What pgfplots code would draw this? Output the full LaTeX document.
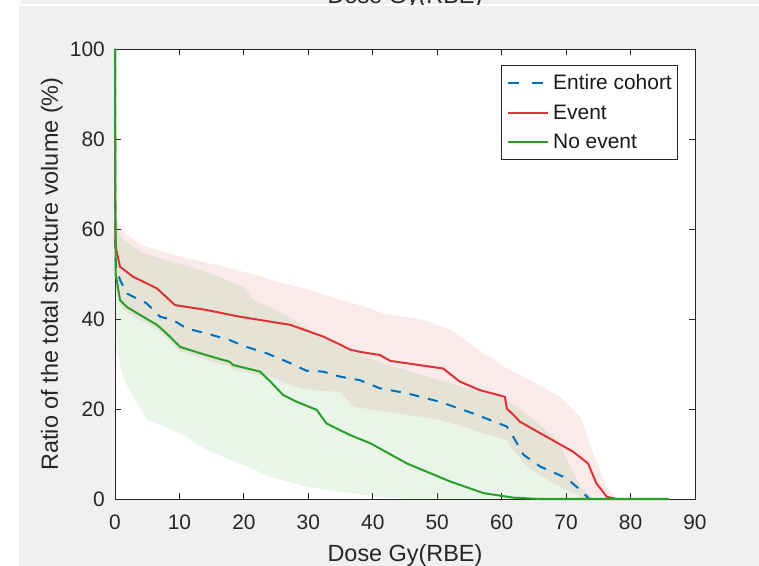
\documentclass[border=0pt]{standalone}
\usepackage{fontspec}
\setmainfont{Liberation Sans}
\usepackage{pgfplots}
\pgfplotsset{compat=1.18}
\definecolor{bgray}{RGB}{240,240,240}
\definecolor{axc}{RGB}{38,38,38}
\definecolor{cblue}{RGB}{0,114,189}
\definecolor{cred}{RGB}{222,50,55}
\definecolor{cgreen}{RGB}{40,160,40}
\begin{document}
\begin{tikzpicture}
\useasboundingbox (0,0) rectangle (759bp,566bp);
\fill[white] (0,0) rectangle (759bp,566bp);
\fill[bgray] (19bp,0) rectangle (759bp,560bp);
\begin{scope}
\clip (21bp,561.5bp) rectangle (759bp,566bp);
\fill[bgray] (21bp,561.5bp) rectangle (759bp,566bp);
\node[anchor=base, inner sep=0pt, text=axc, font=\fontsize{23.5}{28}\selectfont] at (405bp,562.7bp) {Dose Gy(RBE)};
\end{scope}
\begin{axis}[
  at={(115bp,67bp)}, anchor=south west,
  scale only axis, width=580bp, height=450bp,
  xmin=0, xmax=90, ymin=0, ymax=100,
  xtick={0,10,...,90}, ytick={0,20,...,100},
  tick align=inside, tick pos=both,
  major tick length=6bp,
  axis line style={axc, line width=0.8bp},
  every tick/.style={axc, line width=0.8bp},
  /pgf/number format/assume math mode=true,
  ticklabel style={font=\fontsize{21}{25}\selectfont, text=axc},
  xticklabel style={inner sep=0pt, yshift=-16bp},
  yticklabel style={inner sep=0pt, xshift=-10bp},
  xlabel={Dose Gy(RBE)},
  ylabel={Ratio of the total structure volume (\%)},
  label style={font=\fontsize{23.5}{28}\selectfont, text=axc},
  xlabel style={at={(axis description cs:0.5,0)}, anchor=base, yshift=-62.7bp, inner sep=0pt},
  ylabel style={at={(axis description cs:-0.0983,0.5)}, anchor=base, inner sep=0pt},
  axis background/.style={fill=white},
  clip=false,
  legend cell align=left,
  legend image code/.code={\draw[#1] (0bp,0bp) -- (40bp,0bp);},
  legend style={at={(0.971,0.964)}, anchor=north east, draw=axc, line width=0.7bp, fill=white,
    font=\fontsize{21}{25}\selectfont, inner xsep=6bp, inner ysep=9bp,
    row sep=13.6bp, column sep=4bp, nodes={inner sep=0pt, text=black!90}},
]
% Event band (pink)
\addplot[draw=none, fill=cred, fill opacity=0.1, forget plot] coordinates {
(0,64) (0.3,62) (1.3,59.5) (2.3,58.2) (4.4,56.3) (9.6,54) (17.3,51.5) (22.5,49.5)
(24.6,48.5) (30.3,46.5) (34.9,44.3) (39,42.6) (41.6,41.2) (47.8,39.8) (52,37.6) (57.2,32.4)
(60.8,29) (64.4,26.4) (69.1,22.7) (72.2,18.3) (74.2,10.1) (76.3,2.7) (77.8,0)
(73,0) (71.1,1.3) (68,3.5) (63.9,7.2) (61.8,10.9) (60.8,13.1) (50.4,17.6) (37,20.5)
(34.9,23.8) (30.3,24.2) (27.7,25) (24.1,27.2) (22.5,27.5) (18.3,28.8) (17.8,29.5)
(15.8,30.3) (13.2,31.4) (10.1,32.8) (8,35.8) (6.5,37.7) (3.9,39.8) (1.8,41.5)
(0.78,43) (0.26,46) (0,46)
} -- cycle;
% No event band (green)
\addplot[draw=none, fill=cgreen, fill opacity=0.1, forget plot] coordinates {
(0,64) (0.26,60) (1.3,57.6) (4.4,54.6) (9.6,52.4) (14.7,50.2) (19.9,47.2) (21.5,44.2)
(25.1,42) (27.7,39.8) (30.3,37.6) (34.9,33.8) (41.6,30.2) (50.4,26.4) (60.8,22)
(63.9,19) (68.6,13.1) (72.2,2.7) (74.2,0)
(46,0) (42,0.3) (36.5,1.3) (29.7,2.7) (24.1,5) (19.4,7.9) (14.2,10.9) (10.1,14.6)
(4.9,17.8) (4.4,19) (3.4,21.5) (2.3,24) (1.3,27) (0.3,33) (0,45)
} -- cycle;
% Entire cohort
\addplot[cblue, line width=2bp, dash pattern=on 10bp off 9bp,
  legend image post style={dash pattern=on 11bp off 13bp}] coordinates {
(0,100) (0.05,55) (0.15,51.5) (0.78,48.7) (1.8,45.7) (4.9,43.5) (7,40.5) (9,39.8)
(11.1,37.9) (14.2,36.8) (17.8,35.3) (20.4,33.8) (23.5,32.4) (27.2,30.2) (29.7,28.5)
(32.3,28.3) (34.9,27.2) (36.5,26.8) (38,26.4) (41.1,24.6) (45.3,23.5) (50.4,21.6)
(55.6,19) (60.8,16.1) (61.8,13.8) (63.4,9.8) (66,7.2) (70.1,4.6) (72.2,2) (73.4,0.3) (73.6,0)
};
\addlegendentry{Entire cohort}
% Event
\addplot[cred, line width=2bp] coordinates {
(0,100) (0.05,57) (0.26,55) (0.78,51.6) (2.8,49.4) (6.5,46.8) (9.3,43.1) (14.2,42)
(19.4,40.5) (27.2,38.7) (32.3,36.1) (34.5,34.6) (36.5,33.2) (38,32.7) (41.1,32)
(42.7,30.7) (50.9,29) (53.5,26.1) (56.6,24.2) (60.5,22.7) (60.8,20.1) (62.1,18.3)
(62.8,17.2) (67,13.8) (71.1,10.5) (73.4,7.9) (74.7,3.5) (76.3,0.5) (77.8,0)
};
\addlegendentry{Event}
% No event
\addplot[cgreen, line width=2bp] coordinates {
(0,100) (0.1,50) (0.26,48.7) (0.78,44.2) (1.8,42.7) (3.9,40.9) (6.5,38.7) (8,36.8)
(10.1,33.8) (13.2,32.4) (15.8,31.3) (17.8,30.5) (18.3,29.8) (22.5,28.3) (24.1,26.1)
(26.1,23.1) (28.2,21.6) (31.3,19.8) (32.8,16.8) (34.9,15.3) (36.5,14.2) (39.6,12.4)
(45.3,7.9) (52,3.9) (57.2,1.3) (61.8,0.3) (66,0) (85.9,0)
};
\addlegendentry{No event}
\end{axis}
\end{tikzpicture}
\end{document}
